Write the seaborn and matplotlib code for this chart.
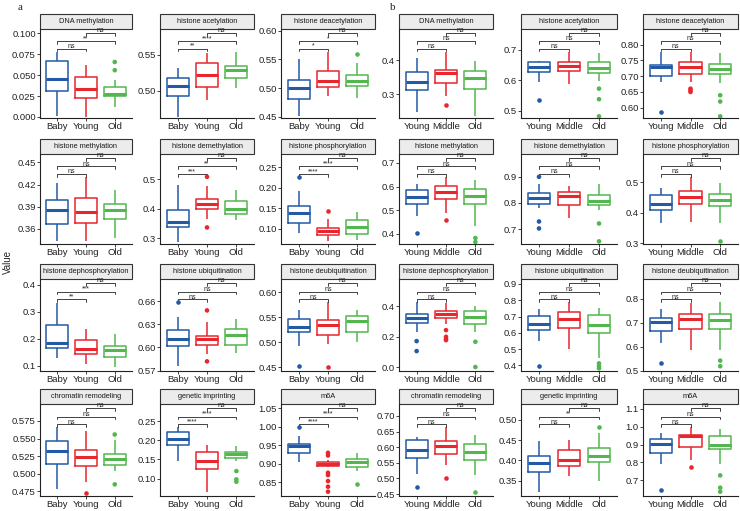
import numpy as np
import pandas as pd
import matplotlib
matplotlib.use("Agg")
import matplotlib.pyplot as plt
import seaborn as sns
from matplotlib.patches import Rectangle

groups_a = ["Baby", "Young", "Old"]
groups_b = ["Young", "Middle", "Old"]
colors = ["#235aa6", "#e8262d", "#52b74e"]
titles = ["DNA methylation", "histone acetylation", "histone deacetylation",
          "histone methylation", "histone demethylation", "histone phosphorylation",
          "histone dephosphorylation", "histone ubiquitination", "histone deubiquitination",
          "chromatin remodeling", "genetic imprinting", "m6A"]

# each group: (lower whisker, Q1, median, Q3, upper whisker); *_out = outliers per group
# ---- cohort a: Baby / Young / Old
a_dna_methylation = [(0.0016, 0.0307, 0.0449, 0.0665, 0.0772), (0.0000, 0.0232, 0.0339, 0.0476, 0.0626), (0.0114, 0.0252, 0.0280, 0.0358, 0.0441)]
a_dna_methylation_out = [[], [], [0.0657, 0.0559]]
a_acetylation = [(0.4636, 0.4932, 0.5068, 0.5177, 0.5318), (0.4877, 0.5059, 0.5227, 0.5386, 0.5523), (0.5045, 0.5182, 0.5286, 0.5341, 0.5532)]
a_acetylation_out = [[], [], []]
a_deacetylation = [(0.4517, 0.4818, 0.5000, 0.5148, 0.5511), (0.4864, 0.5023, 0.5125, 0.5295, 0.5625), (0.4835, 0.5045, 0.5131, 0.5233, 0.5443)]
a_deacetylation_out = [[], [], [0.5585]]
a_methylation = [(0.3428, 0.3662, 0.3860, 0.3990, 0.4224), (0.3437, 0.3671, 0.3828, 0.4012, 0.4300), (0.3468, 0.3734, 0.3850, 0.3940, 0.4120)]
a_methylation_out = [[], [], []]
a_demethylation = [(0.2865, 0.3393, 0.3562, 0.3966, 0.4798), (0.3652, 0.3989, 0.4180, 0.4337, 0.4775), (0.3629, 0.3820, 0.3989, 0.4270, 0.4652)]
a_demethylation_out = [[], [0.509, 0.3371], []]
a_phosphorylation = [(0.0900, 0.1143, 0.1395, 0.1557, 0.1921), (0.0690, 0.0836, 0.0933, 0.1014, 0.1233), (0.0722, 0.0868, 0.1030, 0.1216, 0.1419)]
a_phosphorylation_out = [[0.227], [0.1435], []]
a_dephosphorylation = [(0.1278, 0.1645, 0.1829, 0.2490, 0.3322), (0.1082, 0.1449, 0.1608, 0.1951, 0.2367), (0.0972, 0.1339, 0.1572, 0.1731, 0.2159)]
a_dephosphorylation_out = [[], [], []]
a_ubiquitination = [(0.5756, 0.6013, 0.6116, 0.6223, 0.6399), (0.5914, 0.6030, 0.6107, 0.6150, 0.6334), (0.5927, 0.6034, 0.6159, 0.6244, 0.6364)]
a_ubiquitination_out = [[0.6591], [0.648, 0.582], []]
a_deubiquitination = [(0.4920, 0.5199, 0.5305, 0.5465, 0.5637), (0.4954, 0.5139, 0.5352, 0.5452, 0.5797), (0.5007, 0.5212, 0.5418, 0.5518, 0.5637)]
a_deubiquitination_out = [[0.4522], [0.4502], []]
a_chromatin = [(0.4788, 0.5132, 0.5321, 0.5462, 0.5660), (0.4887, 0.5108, 0.5236, 0.5330, 0.5604), (0.5038, 0.5123, 0.5203, 0.5283, 0.5472)]
a_chromatin_out = [[], [0.4731], [0.5557, 0.4849]]
a_imprinting = [(0.1457, 0.1873, 0.2037, 0.2219, 0.2341), (0.0659, 0.1257, 0.1457, 0.1699, 0.1873), (0.1457, 0.1526, 0.1630, 0.1691, 0.1864)]
a_imprinting_out = [[], [], [0.1197, 0.0980, 0.0919]]
a_m6a = [(0.9054, 0.9278, 0.9494, 0.9548, 0.9745), (0.8910, 0.8937, 0.9000, 0.9045, 0.9090), (0.8803, 0.8910, 0.9054, 0.9117, 0.9278)]
a_m6a_out = [[0.9996], [0.9296, 0.9224, 0.8758, 0.8695, 0.8533, 0.8381, 0.8246], [0.8443]]

# ---- cohort b: Young / Middle / Old
b_dna_methylation = [(0.2485, 0.3126, 0.3359, 0.3660, 0.4068), (0.2951, 0.3340, 0.3612, 0.3728, 0.4233), (0.2350, 0.3146, 0.3485, 0.3699, 0.3971)]
b_dna_methylation_out = [[], [0.2689], []]
b_acetylation = [(0.5946, 0.6292, 0.6432, 0.6595, 0.6627), (0.5870, 0.6324, 0.6465, 0.6616, 0.6919), (0.5978, 0.6249, 0.6411, 0.6595, 0.6897)]
b_acetylation_out = [[0.5351], [], [0.573, 0.5384, 0.4822]]
b_deacetylation = [(0.6813, 0.7000, 0.7281, 0.7344, 0.7750), (0.6813, 0.7083, 0.7280, 0.7438, 0.7750), (0.6792, 0.7073, 0.7240, 0.7396, 0.7729)]
b_deacetylation_out = [[0.5875], [0.6604, 0.6552, 0.6500], [0.6396, 0.6198, 0.5729]]
b_methylation = [(0.4763, 0.5251, 0.5558, 0.5865, 0.6116), (0.4902, 0.5460, 0.5767, 0.6004, 0.6395), (0.4344, 0.5251, 0.5600, 0.5907, 0.6269)]
b_methylation_out = [[0.4052], [0.4596], [0.3828, 0.3661]]
b_demethylation = [(0.7823, 0.7975, 0.8177, 0.8367, 0.8709), (0.7443, 0.7924, 0.8266, 0.8430, 0.8646), (0.7734, 0.7924, 0.8076, 0.8291, 0.8709)]
b_demethylation_out = [[0.9000, 0.7291, 0.7025], [], [0.7215, 0.6532]]
b_phosphorylation = [(0.3656, 0.4108, 0.4301, 0.4602, 0.4817), (0.3710, 0.4301, 0.4538, 0.4731, 0.5183), (0.3677, 0.4215, 0.4430, 0.4624, 0.4968)]
b_phosphorylation_out = [[], [], [0.3086]]
b_dephosphorylation = [(0.2295, 0.2907, 0.3235, 0.3519, 0.4262), (0.2798, 0.3235, 0.3519, 0.3672, 0.4219), (0.2295, 0.2863, 0.3300, 0.3672, 0.4044)]
b_dephosphorylation_out = [[0.1705, 0.1049], [0.2426, 0.1989, 0.1858, 0.1770], [0.1661, 0.0000]]
b_ubiquitination = [(0.5490, 0.6143, 0.6571, 0.7061, 0.7469), (0.4980, 0.6306, 0.6857, 0.7265, 0.7878), (0.4429, 0.6000, 0.6510, 0.7122, 0.7531)]
b_ubiquitination_out = [[0.3959], [], [0.4122, 0.3959, 0.3816]]
b_deubiquitination = [(0.6133, 0.6656, 0.7028, 0.7206, 0.7578), (0.5858, 0.6725, 0.7138, 0.7344, 0.7798), (0.5858, 0.6725, 0.7096, 0.7344, 0.7853)]
b_deubiquitination_out = [[0.5308], [], [0.5418, 0.5184]]
b_chromatin = [(0.5128, 0.5660, 0.5894, 0.6223, 0.6330), (0.5426, 0.5766, 0.6053, 0.6191, 0.6638), (0.5106, 0.5585, 0.5851, 0.6106, 0.6383)]
b_chromatin_out = [[0.4723], [0.5021], [0.4574]]
b_imprinting = [(0.3230, 0.3713, 0.3926, 0.4107, 0.4475), (0.3615, 0.3861, 0.4000, 0.4246, 0.4516), (0.3492, 0.3967, 0.4107, 0.4311, 0.4680)]
b_imprinting_out = [[], [], [0.4828]]
b_m6a = [(0.7879, 0.8495, 0.9056, 0.9336, 0.9654), (0.8103, 0.8850, 0.9467, 0.9561, 0.9972), (0.7916, 0.8720, 0.9000, 0.9467, 0.9897)]
b_m6a_out = [[0.6439], [0.7729], [0.7262, 0.6570, 0.6346]]

# significance labels: (1 vs 2, 1 vs 3, 2 vs 3)
sig_a = [["ns", "**", "ns"], ["**", "****", "ns"], ["*", "*", "ns"],
         ["ns", "ns", "ns"], ["***", "**", "ns"], ["****", "****", "ns"],
         ["**", "***", "ns"], ["ns", "ns", "ns"], ["ns", "ns", "ns"],
         ["ns", "ns", "ns"], ["****", "****", "ns"], ["****", "****", "ns"]]
sig_b = [["ns", "ns", "ns"]] * 10 + [["ns", "**", "ns"], ["ns", "ns", "ns"]]

# y tick labels
ticks_a = [["0.000", "0.025", "0.050", "0.075", "0.100"], ["0.50", "0.55"], ["0.45", "0.50", "0.55", "0.60"],
           ["0.36", "0.39", "0.42", "0.45"], ["0.3", "0.4", "0.5"], ["0.10", "0.15", "0.20", "0.25"],
           ["0.1", "0.2", "0.3", "0.4"], ["0.57", "0.60", "0.63", "0.66"], ["0.45", "0.50", "0.55", "0.60"],
           ["0.475", "0.500", "0.525", "0.550", "0.575"], ["0.10", "0.15", "0.20", "0.25"], ["0.85", "0.90", "0.95", "1.00", "1.05"]]
ticks_b = [["0.3", "0.4"], ["0.5", "0.6", "0.7"], ["0.60", "0.65", "0.70", "0.75", "0.80"],
           ["0.4", "0.5", "0.6", "0.7"], ["0.7", "0.8", "0.9"], ["0.3", "0.4", "0.5"],
           ["0.0", "0.2", "0.4"], ["0.4", "0.5", "0.6", "0.7", "0.8", "0.9"], ["0.5", "0.6", "0.7", "0.8"],
           ["0.45", "0.50", "0.55", "0.60", "0.65", "0.70"], ["0.35", "0.40", "0.45", "0.50"], ["0.7", "0.8", "0.9", "1.0", "1.1"]]
ylims_a = [(-0.0012, 0.1051), (0.4627, 0.5855), (0.448, 0.6028), (0.3392, 0.4615), (0.2809, 0.5865), (0.0625, 0.2829),
           (0.0813, 0.4203), (0.5695, 0.6887), (0.4422, 0.6262), (0.4684, 0.599), (0.0547, 0.2947), (0.8129, 1.0616)]
ylims_b = [(0.230, 0.4922), (0.4768, 0.7686), (0.5677, 0.849), (0.3577, 0.7371), (0.643, 0.9873), (0.298, 0.5935),
           (-0.0262, 0.5792), (0.3653, 0.9306), (0.4985, 0.8816), (0.4436, 0.7383), (0.3123, 0.5393), (0.6103, 1.128)]

boxes_a = [a_dna_methylation, a_acetylation, a_deacetylation, a_methylation, a_demethylation, a_phosphorylation,
           a_dephosphorylation, a_ubiquitination, a_deubiquitination, a_chromatin, a_imprinting, a_m6a]
outs_a = [a_dna_methylation_out, a_acetylation_out, a_deacetylation_out, a_methylation_out, a_demethylation_out,
          a_phosphorylation_out, a_dephosphorylation_out, a_ubiquitination_out, a_deubiquitination_out,
          a_chromatin_out, a_imprinting_out, a_m6a_out]
boxes_b = [b_dna_methylation, b_acetylation, b_deacetylation, b_methylation, b_demethylation, b_phosphorylation,
           b_dephosphorylation, b_ubiquitination, b_deubiquitination, b_chromatin, b_imprinting, b_m6a]
outs_b = [b_dna_methylation_out, b_acetylation_out, b_deacetylation_out, b_methylation_out, b_demethylation_out,
          b_phosphorylation_out, b_dephosphorylation_out, b_ubiquitination_out, b_deubiquitination_out,
          b_chromatin_out, b_imprinting_out, b_m6a_out]

sns.set_style("ticks")
plt.rcParams["font.family"] = ["Liberation Sans", "DejaVu Sans"]

W, H = 740, 511
fig = plt.figure(figsize=(W / 100, H / 100), dpi=100)

# panel layout in pixels
col_left = [40, 160, 281, 399, 521, 643]
col_right = [132, 254, 375, 493, 617, 738]
row_top = [29, 154, 279, 404]
row_bottom = [118, 244, 371, 496]
strip_h = 15
bracket_y = [0.778, 0.862, 0.955]
pairs = [(0, 1), (0, 2), (1, 2)]


def draw_panel(ax, groups, stats, outliers, sig, ticks, ylim, title):
    pal = dict(zip(groups, colors))
    box_df = pd.DataFrame({"group": np.repeat(groups, 5),
                           "value": np.concatenate([np.array(s) for s in stats])})
    sns.boxplot(data=box_df, x="group", y="value", hue="group", order=groups, hue_order=groups,
                palette=pal, fill=False, width=0.75, whis=(0, 100), showfliers=False,
                linewidth=1.1, legend=False, ax=ax,
                medianprops=dict(linewidth=2.2), capprops=dict(visible=False))
    og = [g for g, o in zip(groups, outliers) for _ in o]
    ov = [v for o in outliers for v in o]
    if ov:
        sns.stripplot(data=pd.DataFrame({"group": og, "value": ov}), x="group", y="value",
                      hue="group", order=groups, hue_order=groups, palette=pal,
                      jitter=False, size=3.3, legend=False, ax=ax)
    ax.set_xlim(-0.6, 2.6)
    ax.set_ylim(*ylim)
    ax.set_yticks([float(t) for t in ticks], ticks)
    ax.set_xlabel("")
    ax.set_ylabel("")
    ax.tick_params(labelsize=6.8, length=2, width=0.6, pad=1, colors="#222222")
    for sp in ["top", "right"]:
        ax.spines[sp].set_visible(False)
    for sp in ["left", "bottom"]:
        ax.spines[sp].set_linewidth(0.8)
        ax.spines[sp].set_color("#222222")
    # facet strip
    h = strip_h / (ax.bbox.height)
    ax.add_patch(Rectangle((0, 1), 1, h, transform=ax.transAxes, clip_on=False,
                           facecolor="#ececec", edgecolor="#333333", linewidth=0.8))
    ax.text(0.5, 1 + h / 2, title, transform=ax.transAxes, ha="center", va="center",
            fontsize=5.3, color="#1a1a1a")
    # significance brackets
    tr = ax.get_xaxis_transform()
    for (i, j), yb, lab in zip(pairs, bracket_y, sig):
        ax.plot([i, i, j, j], [yb - 0.03, yb, yb, yb - 0.03], transform=tr,
                color="#222222", linewidth=0.6, clip_on=False)
        ax.text((i + j) / 2, yb - 0.012, lab, transform=tr, ha="center", va="bottom",
                fontsize=5, color="#222222")


for side, (groups, boxes, outs, sigs, ticks, ylims) in enumerate([
        (groups_a, boxes_a, outs_a, sig_a, ticks_a, ylims_a),
        (groups_b, boxes_b, outs_b, sig_b, ticks_b, ylims_b)]):
    for k in range(12):
        r, c = k // 3, k % 3 + 3 * side
        l, rt = col_left[c], col_right[c]
        t, b = row_top[r], row_bottom[r]
        ax = fig.add_axes([l / W, 1 - b / H, (rt - l) / W, (b - t) / H])
        draw_panel(ax, groups, boxes[k], outs[k], sigs[k], ticks[k], ylims[k], titles[k])

fig.text(20 / W, 1 - 7 / H, "a", fontsize=8, family="Liberation Serif", ha="center", va="center")
fig.text(393 / W, 1 - 7 / H, "b", fontsize=8, family="Liberation Serif", ha="center", va="center")
fig.text(8 / W, 1 - 262 / H, "Value", rotation=90, fontsize=7, ha="center", va="center")

fig.savefig("out.png", dpi=100)
